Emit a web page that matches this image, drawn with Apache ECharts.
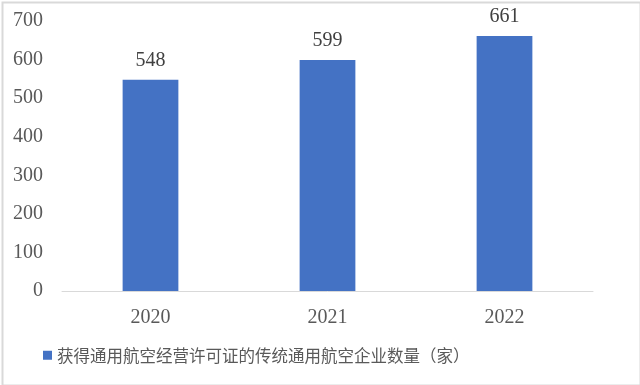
<!DOCTYPE html>
<html><head><meta charset="utf-8">
<script src="https://cdn.jsdelivr.net/npm/echarts@6/dist/echarts.min.js"></script>
<style>html,body{margin:0;padding:0;background:#fff}#c{width:640px;height:385px}</style>
</head><body><div id="c"></div>
<script>
const categories = ['2020', '2021', '2022'];
const values = [548, 599, 661];
const seriesName = '获得通用航空经营许可证的传统通用航空企业数量（家）';
const yTicks = [0, 100, 200, 300, 400, 500, 600, 700];

const chart = echarts.init(document.getElementById('c'));
chart.setOption({
  animation: false,
  backgroundColor: '#fff',
  graphic: [{
    type: 'rect', left: 0, top: 0,
    shape: { x: 0.5, y: 0.5, width: 638, height: 383 },
    style: { fill: 'none', stroke: '#d9d9d9', lineWidth: 2 }
  }],
  grid: { left: 62, right: 47, top: 21, bottom: 94 },
  legend: {
    data: [seriesName], left: 38, top: 342, itemWidth: 9, itemHeight: 9, itemGap: 6,
    icon: 'rect',
    textStyle: { fontFamily: 'Noto Sans CJK SC', fontSize: 16.5, color: '#595959' }
  },
  xAxis: {
    type: 'category', data: categories,
    axisLine: { lineStyle: { color: '#d9d9d9', width: 1 } },
    axisTick: { show: false },
    axisLabel: { fontFamily: 'Liberation Serif', fontSize: 20, color: '#595959', margin: 17 }
  },
  yAxis: {
    type: 'value', min: yTicks[0], max: yTicks[yTicks.length - 1], interval: 100,
    splitLine: { show: false }, axisLine: { show: false }, axisTick: { show: false },
    axisLabel: { fontFamily: 'Liberation Serif', fontSize: 20, color: '#595959', margin: 19 }
  },
  series: [{
    name: seriesName, type: 'bar', data: values, barWidth: '31.5%',
    itemStyle: { color: '#4472C4' },
    label: { show: true, position: 'top', distance: 9, fontFamily: 'Liberation Serif', fontSize: 20, color: '#404040' }
  }]
});
</script></body></html>
